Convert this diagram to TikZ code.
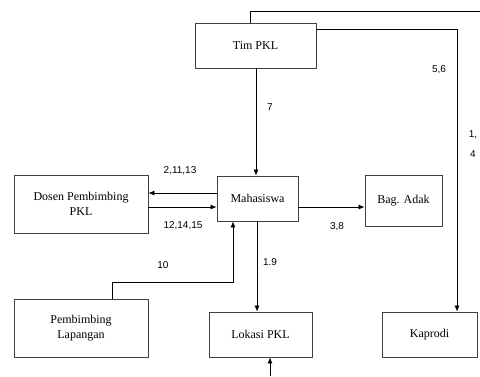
\documentclass[tikz,border=0pt]{standalone}
\usepackage{fontspec}
\setmainfont{Liberation Serif}
\newfontfamily\lblfont{Liberation Sans}
\usetikzlibrary{arrows.meta}

\begin{document}
\begin{tikzpicture}[x=1pt,y=-1pt,
    every node/.style={draw=black!75,line width=0.8pt,align=center,inner sep=0pt,font=\fontsize{12}{15}\selectfont},
    lbl/.style={draw=none,font=\lblfont\fontsize{10}{12}\selectfont},
    flow/.style={line width=0.7pt,-{Latex[length=6pt,width=5pt]}},
    wire/.style={line width=0.7pt}]
  \useasboundingbox (0,0) rectangle (480,376);
  % boxes
  \node[minimum width=121pt,minimum height=45pt] (tim) at (255.5,45.5) {Tim PKL};
  \node[minimum width=81pt,minimum height=45pt] (mhs) at (257.5,198.5) {Mahasiswa};
  \node[minimum width=77pt,minimum height=51pt] (adak) at (403.5,200.5) {Bag. Adak};
  \node[minimum width=134pt,minimum height=58pt] (dosen) at (81,204) {Dosen Pembimbing\\PKL};
  \node[minimum width=134pt,minimum height=58pt] (lap) at (81,328) {Pembimbing\\Lapangan};
  \node[minimum width=103pt,minimum height=45pt] (lok) at (260.5,334.5) {Lokasi PKL};
  \node[minimum width=95pt,minimum height=45pt] (kap) at (429.5,334.5) {Kaprodi};
  % free ends
  \coordinate (topend) at (480,11);
  \coordinate (botend) at (270,376);
  % connectors
  \draw[wire] (tim.north -| 250,0) |- (topend);
  \draw[flow] (tim.east |- 0,29) -| (kap.north -| 457,0);
  \draw[flow] (tim.south -| 256,0) -- (mhs.north -| 256,0);
  \draw[flow] (mhs.west |- 0,193) -- (dosen.east |- 0,193);
  \draw[flow] (dosen.east |- 0,207) -- (mhs.west |- 0,207);
  \draw[flow] (mhs.east |- 0,207) -- (adak.west |- 0,207);
  \draw[flow] (lap.north -| 112,0) |- (233,282) -- (mhs.south -| 233,0);
  \draw[flow] (mhs.south -| 257,0) -- (lok.north -| 257,0);
  \draw[flow] (botend) -- (lok.south -| 270,0);
  % labels
  \node[lbl] (l7) at (270,107) {7};
  \node[lbl] (l56) at (439,70) {5,6};
  \node[lbl] (l1) at (473,135) {1,};
  \node[lbl] (l4) at (473,154) {4};
  \node[lbl] (l21) at (180,171) {2,11,13};
  \node[lbl] (l12) at (183,226) {12,14,15};
  \node[lbl] (l38) at (337,227) {3,8};
  \node[lbl] (l10) at (163,265) {10};
  \node[lbl] (l19) at (270,262) {1.9};
\end{tikzpicture}
\end{document}
